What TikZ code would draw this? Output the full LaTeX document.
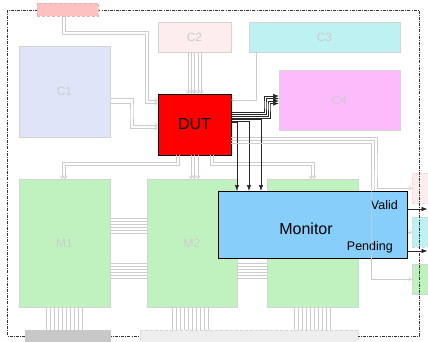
\documentclass[tikz,border=0pt]{standalone}
\usepackage{fontspec}
\setmainfont{Liberation Sans}
\usetikzlibrary{arrows.meta}
\definecolor{lgray}{HTML}{CCCCCC}
\definecolor{bgray}{HTML}{D4D4D4}
\definecolor{fpink}{HTML}{FFC0C0}
\definecolor{fc1}{HTML}{E0E4F8}
\definecolor{fc2}{HTML}{FDEDED}
\definecolor{fc3}{HTML}{BEF2F2}
\definecolor{fc4}{HTML}{FCBCFC}
\definecolor{fm}{HTML}{C0F2C0}
\definecolor{fmon}{HTML}{87CEFA}
\definecolor{fbar}{HTML}{C8C8C8}
\definecolor{fbar2}{HTML}{EEEEEE}
\definecolor{framec}{HTML}{333333}
\begin{document}
\begin{tikzpicture}[x=1pt,y=-1pt,
  blk/.style={inner sep=0pt, outer sep=0pt, draw=bgray, line width=0.6pt,
    font=\fontsize{12}{14}\selectfont, text=lgray},
  dblk/.style={blk, dashed, dash pattern=on 3pt off 2pt},
  gl/.style={draw=lgray, line width=0.6pt},
  garr/.style={gl, -{Straight Barb[length=3pt,width=4.5pt]}},
  bl/.style={draw=black!85, line width=0.7pt},
  barr/.style={bl, -{Latex[length=6pt,width=4.5pt]}}]
\useasboundingbox (0,0) rectangle (428,341);
\clip (0,0) rectangle (428,341);

% right side boxes (partly outside)
\node[dblk, fill=fc2, draw=fpink!70, minimum width=28pt, minimum height=30pt] (R1) at (426,188) {};
\node[dblk, fill=fc3, draw=bgray, minimum width=28pt, minimum height=30pt] (R2) at (426,232) {};
\node[blk, fill=fm, minimum width=28pt, minimum height=30pt] (R3) at (426,279) {};

% frame
\draw[framec, line width=0.6pt, dash pattern=on 3pt off 1.2pt on 0.8pt off 1.2pt] (7,10) rectangle (419,336);

% boxes
\node[dblk, fill=fpink, draw=fpink!80!gray, minimum width=61pt, minimum height=13pt] (pinktop) at (67.5,9.5) {};
\node[blk, fill=fc1, minimum width=91pt, minimum height=91pt] (C1) at (64.5,91.5) {C1};
\node[blk, fill=fc2, minimum width=73pt, minimum height=30pt] (C2) at (194.5,37) {C2};
\node[blk, fill=fc3, minimum width=151pt, minimum height=30pt] (C3) at (324.5,37) {C3};
\node[blk, fill=fc4, minimum width=121pt, minimum height=60pt] (C4) at (339.5,100) {C4};
\node[blk, fill=fm, minimum width=91pt, minimum height=128pt] (M1) at (64.5,243) {M1};
\node[blk, fill=fm, minimum width=90pt, minimum height=128pt] (M2) at (192,243) {M2};
\node[blk, fill=fm, minimum width=91pt, minimum height=128pt] (M3) at (312.5,243) {};
\node[blk, fill=fbar, draw=fbar, minimum width=85pt, minimum height=12pt] (bar1) at (67.5,336) {};
\node[dblk, fill=fbar2, draw=bgray, minimum width=218pt, minimum height=12pt] (bar2) at (249,336) {};
\node[inner sep=0pt, outer sep=0pt, draw=black, line width=0.7pt, fill=red,
  minimum width=73pt, minimum height=61pt, font=\fontsize{16}{19}\selectfont] (DUT) at (194.5,124.5) {DUT};

% grey connectors: pinktop -> DUT
\draw[garr] ([xshift=-5.5pt]pinktop.south) |- (145,34) |- ([yshift=21.5pt]DUT.west);
\draw[garr] ([xshift=-2.5pt]pinktop.south) |- (148,31) |- ([yshift=24.5pt]DUT.west);
% C1 -> DUT
\draw[garr] ([yshift=-6.5pt]C1.east) -| (133,110) |- ([yshift=-0.5pt]DUT.west);
\draw[garr] ([yshift=-11.5pt]C1.east) -| (130,115) |- ([yshift=-3.5pt]DUT.west);
% C2 -> DUT
\foreach \d in {-6.6,-3.3,0,3.3,6.6}
  \draw[garr] ([xshift=\d pt]C2.south) -- ([xshift=\d pt]DUT.north);
% C3 -> DUT
\draw[garr] ([xshift=-68.5pt]C3.south) |- ([yshift=24.5pt]DUT.east);
% DUT -> M1
\draw[garr] ([xshift=-18.5pt]DUT.south) |- (62,162) -- ([xshift=-2.5pt]M1.north);
\draw[garr] ([xshift=-15.5pt]DUT.south) |- (65,165) -- ([xshift=0.5pt]M1.north);
% DUT -> M2
\draw[garr] ([xshift=-3.5pt]DUT.south) -- ([xshift=-1pt]M2.north);
\draw[garr] ([xshift=0pt]DUT.south) -- ([xshift=2.5pt]M2.north);
\draw[garr] ([xshift=3.5pt]DUT.south) -- ([xshift=6pt]M2.north);
% DUT -> M3
\draw[garr] ([xshift=15.5pt]DUT.south) |- (311,165) -- ([xshift=-1.5pt]M3.north);
\draw[garr] ([xshift=18.5pt]DUT.south) |- (314,162) -- ([xshift=1.5pt]M3.north);
% DUT -> right boxes
\draw[garr] ([yshift=-12.5pt]DUT.east) -| (377,170) |- (R1.west);
\draw[garr] ([yshift=-15.5pt]DUT.east) -| (374,200) |- (R2.west);
% M bundles
\foreach \s in {25,22,19,16,13,10,-20,-23,-26,-29,-32,-35} {
  \draw[gl] ([yshift=\s pt]M1.east) -- ([yshift=\s pt]M2.west);
  \draw[gl] ([yshift=\s pt]M2.east) -- ([yshift=\s pt]M3.west);
}
% M -> bars
\foreach \s in {-18,-14,-10,-6,-2,2,6,10,14,18} {
  \draw[gl] ([xshift=\s pt]M1.south) -- ([xshift=\s pt]M1.south |- bar1.north);
  \draw[gl] ([xshift=\s pt-2pt]M2.south) -- ([xshift=\s pt-2pt]M2.south |- bar2.north);
  \draw[gl] ([xshift=\s pt]M3.south) -- ([xshift=\s pt]M3.south |- bar2.north);
}

% black connectors DUT -> C4
\draw[barr] ([yshift=12.5pt]DUT.east) -| (264,105) |- ([yshift=4pt]C4.west);
\draw[barr] ([yshift=10.5pt]DUT.east) -| (266,105) |- ([yshift=1.5pt]C4.west);
\draw[barr] ([yshift=8.5pt]DUT.east) -| (268,105) |- ([yshift=-1pt]C4.west);
\draw[barr] ([yshift=6.5pt]DUT.east) -| (270,105) |- ([yshift=-3.5pt]C4.west);

% Monitor
\node[inner sep=0pt, outer sep=0pt, draw=black, line width=0.7pt, fill=fmon,
  minimum width=189pt, minimum height=67pt] (Monitor) at (312.5,224.5) {};
\node[font=\fontsize{16}{19}\selectfont, inner sep=0pt] (montxt) at ([xshift=-6.5pt,yshift=-4.5pt]Monitor.center) {Monitor};
\node[font=\fontsize{12.5}{15}\selectfont, inner sep=0pt, anchor=east] (validtxt) at ([xshift=-9pt,yshift=19.5pt]Monitor.east) {Valid};
\node[font=\fontsize{12.5}{15}\selectfont, inner sep=0pt, anchor=east] (pendtxt) at ([xshift=-14pt,yshift=-23pt]Monitor.east) {Pending};

% DUT -> Monitor
\draw[barr] ([yshift=5pt]DUT.east) -| ([xshift=-51.5pt]Monitor.north);
\draw[barr] ([yshift=3.5pt]DUT.east) -| ([xshift=-63.5pt]Monitor.north);
\draw[barr] ([yshift=2pt]DUT.east) -| ([xshift=-75.5pt]Monitor.north);

% DUT -> R3 (drawn over monitor)
\draw[garr] ([yshift=-18.5pt]DUT.east) -| (371,230) |- (R3.west);

% outputs
\coordinate (vout) at (427.5,209);
\coordinate (pout) at (427.5,251);
\draw[barr] ([yshift=15.5pt]Monitor.east) -- (vout);
\draw[barr] ([yshift=-26.5pt]Monitor.east) -- (pout);
\end{tikzpicture}
\end{document}
